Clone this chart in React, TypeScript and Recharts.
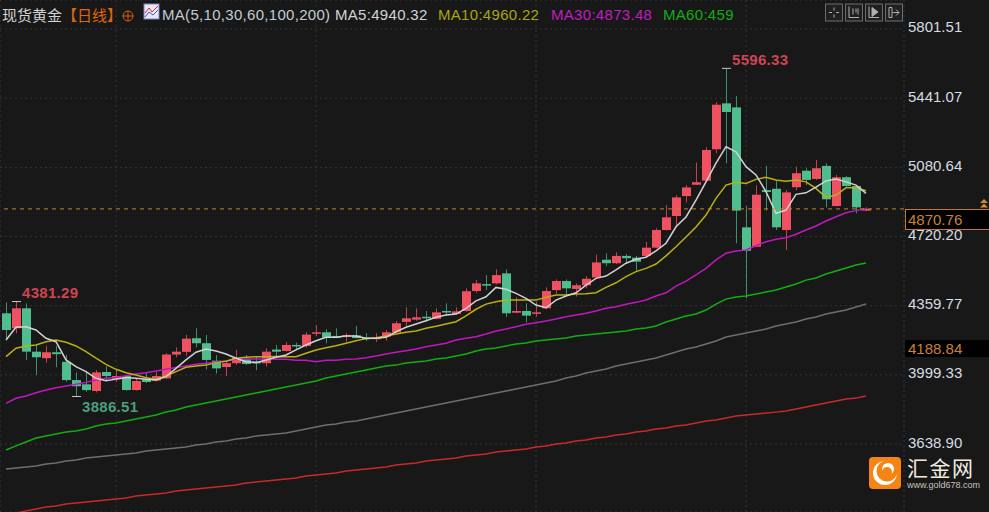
import React from 'react'
import { ComposedChart, Bar, Line, XAxis, YAxis, CartesianGrid, ReferenceLine } from 'recharts'

// daily candles
const opens = [
  4320, 4242, 4346, 4120, 4086, 4117, 4067, 3972, 3950, 3915,
  4014, 3976, 3993, 3920, 3976, 3969, 3981, 4105, 4119, 4190,
  4164, 4073, 4040, 4060, 4081, 4069, 4060, 4131, 4124, 4155,
  4150, 4216, 4221, 4202, 4200, 4205, 4193, 4186, 4198, 4221,
  4275, 4287, 4302, 4291, 4332, 4316, 4332, 4436, 4472, 4476,
  4528, 4323, 4332, 4318, 4346, 4441, 4488, 4447, 4466, 4507,
  4599, 4581, 4619, 4610, 4619, 4662, 4754, 4827, 4931, 4990,
  5011, 5175, 5414, 5393, 4768, 4667, 4962, 4969, 4754, 4977,
  5063, 5020, 5088, 4879, 5029, 4983, 4855,
]
const closes = [
  4233, 4346, 4120, 4091, 4117, 4107, 3972, 3940, 3920, 4012,
  3993, 3993, 3920, 3967, 3962, 3993, 4105, 4120, 4188, 4164,
  4077, 4033, 4060, 4087, 4056, 4059, 4120, 4120, 4155, 4148,
  4209, 4221, 4193, 4193, 4207, 4191, 4186, 4193, 4221, 4268,
  4294, 4299, 4294, 4325, 4325, 4330, 4435, 4476, 4467, 4519,
  4320, 4332, 4308, 4325, 4436, 4488, 4450, 4466, 4500, 4585,
  4581, 4619, 4607, 4589, 4662, 4754, 4820, 4924, 4976, 5003,
  5171, 5407, 5369, 4855, 4646, 4938, 4952, 4768, 4950, 5050,
  5015, 5076, 4914, 5029, 4983, 4872, 4864,
]
const highs = [
  4377, 4381.29, 4372, 4155, 4150, 4150, 4103, 4012, 4016, 4024,
  4045, 4028, 3998, 3981, 4010, 4016, 4112, 4143, 4207, 4242,
  4207, 4103, 4073, 4129, 4103, 4094, 4138, 4155, 4169, 4167,
  4221, 4259, 4237, 4242, 4216, 4254, 4216, 4216, 4233, 4280,
  4351, 4346, 4332, 4346, 4372, 4351, 4450, 4493, 4519, 4549,
  4549, 4403, 4372, 4380, 4455, 4497, 4497, 4476, 4514, 4625,
  4633, 4638, 4629, 4619, 4692, 4763, 4884, 4936, 4988, 5105,
  5185, 5420, 5596.33, 5452, 4879, 4988, 5088, 5011, 4962, 5084,
  5076, 5119, 5102, 5041, 5035, 4988, 4872,
]
const lows = [
  4185, 4216, 4077, 3998, 4063, 4039, 3964, 3886.51, 3911, 3908,
  3967, 3962, 3917, 3917, 3957, 3964, 3976, 4091, 4098, 4143,
  4028, 4007, 3993, 4051, 4051, 4024, 4042, 4094, 4121, 4133,
  4141, 4202, 4164, 4190, 4172, 4188, 4176, 4171, 4177, 4216,
  4254, 4281, 4276, 4288, 4308, 4311, 4328, 4427, 4441, 4471,
  4300, 4320, 4273, 4302, 4343, 4424, 4421, 4407, 4450, 4502,
  4566, 4577, 4581, 4537, 4612, 4659, 4751, 4768, 4898, 4988,
  5008, 5154, 5102, 4685, 4398, 4664, 4855, 4754, 4650, 4962,
  4988, 5015, 4872, 4876, 4980, 4841, 4852,
]

const ma5 = [
  4181, 4247, 4250, 4233, 4190, 4172, 4077, 4042, 4016, 3981,
  3969, 3977, 3986, 3981, 3976, 3972, 3990, 4033, 4077, 4117,
  4134, 4124, 4108, 4086, 4068, 4063, 4077, 4091, 4103, 4129,
  4155, 4177, 4195, 4195, 4202, 4202, 4190, 4190, 4195, 4224,
  4247, 4264, 4281, 4299, 4311, 4316, 4346, 4385, 4406, 4455,
  4445, 4424, 4398, 4363, 4349, 4389, 4410, 4427, 4467, 4502,
  4514, 4546, 4581, 4602, 4612, 4645, 4685, 4771, 4822, 4910,
  5005, 5102, 5188, 5162, 5084, 5041, 4954, 4841, 4858, 4940,
  4948, 4977, 5010, 5020, 5005, 4988, 4945,
]
const ma10 = [
  4094, 4138, 4150, 4155, 4172, 4181, 4169, 4150, 4120, 4086,
  4054, 4028, 4010, 3998, 3984, 3976, 3993, 4016, 4039, 4045,
  4050, 4063, 4070, 4086, 4091, 4094, 4094, 4095, 4094, 4094,
  4112, 4129, 4141, 4151, 4164, 4177, 4188, 4193, 4202, 4212,
  4221, 4228, 4242, 4252, 4264, 4276, 4306, 4341, 4368, 4380,
  4389, 4389, 4389, 4389, 4403, 4415, 4415, 4420, 4422, 4427,
  4455, 4479, 4511, 4537, 4554, 4577, 4619, 4667, 4718, 4770,
  4832, 4919, 4988, 5003, 4997, 5018, 5029, 5015, 5008, 5015,
  5005, 4971, 4924, 4936, 4974, 4974, 4959,
]
const ma30 = [
  3851, 3877, 3889, 3906, 3920, 3932, 3941, 3950, 3960, 3972,
  3981, 3986, 3995, 4004, 4010, 4019, 4028, 4037, 4045, 4054,
  4060, 4066, 4071, 4080, 4082, 4082, 4082, 4081, 4080, 4075,
  4075, 4068, 4075, 4075, 4080, 4082, 4088, 4097, 4108, 4117,
  4125, 4134, 4146, 4155, 4164, 4181, 4190, 4198, 4212, 4228,
  4238, 4250, 4263, 4271, 4280, 4290, 4302, 4311, 4320, 4332,
  4346, 4354, 4367, 4377, 4389, 4410, 4427, 4462, 4488, 4520,
  4554, 4598, 4633, 4645, 4650, 4672, 4693, 4706, 4714, 4732,
  4754, 4775, 4801, 4823, 4844, 4855, 4865,
]
const ma60 = [
  3608, 3629, 3649, 3670, 3681, 3691, 3702, 3707, 3717, 3733,
  3743, 3748, 3759, 3769, 3780, 3790, 3806, 3816, 3832, 3842,
  3853, 3863, 3873, 3884, 3894, 3905, 3915, 3925, 3936, 3946,
  3957, 3967, 3983, 3993, 4004, 4014, 4024, 4035, 4045, 4050,
  4061, 4066, 4071, 4082, 4087, 4097, 4108, 4123, 4134, 4139,
  4150, 4160, 4165, 4176, 4181, 4186, 4191, 4202, 4207, 4212,
  4217, 4222, 4228, 4238, 4243, 4254, 4275, 4290, 4306, 4316,
  4337, 4368, 4394, 4405, 4410, 4420, 4431, 4441, 4457, 4473,
  4493, 4504, 4525, 4540, 4556, 4572, 4582,
]
const ma100 = [
  3508, 3514, 3519, 3524, 3535, 3540, 3550, 3555, 3566, 3571,
  3576, 3582, 3587, 3592, 3602, 3608, 3613, 3618, 3623, 3634,
  3639, 3649, 3654, 3665, 3670, 3681, 3686, 3691, 3696, 3707,
  3717, 3727, 3738, 3743, 3753, 3759, 3769, 3780, 3790, 3800,
  3811, 3821, 3832, 3842, 3853, 3863, 3873, 3884, 3894, 3905,
  3915, 3925, 3936, 3946, 3957, 3967, 3983, 3993, 4009, 4019,
  4030, 4045, 4056, 4066, 4077, 4087, 4103, 4118, 4134, 4144,
  4160, 4176, 4196, 4207, 4217, 4228, 4238, 4254, 4264, 4275,
  4290, 4301, 4316, 4327, 4337, 4353, 4368,
]
const ma200 = [
  3269, 3279, 3290, 3300, 3311, 3316, 3326, 3331, 3337, 3342,
  3347, 3352, 3357, 3368, 3373, 3378, 3383, 3394, 3399, 3404,
  3409, 3415, 3420, 3425, 3436, 3441, 3446, 3451, 3456, 3462,
  3472, 3477, 3483, 3488, 3498, 3503, 3508, 3514, 3519, 3529,
  3535, 3540, 3550, 3555, 3561, 3566, 3576, 3582, 3587, 3597,
  3602, 3608, 3613, 3623, 3629, 3639, 3644, 3655, 3660, 3670,
  3675, 3686, 3691, 3701, 3707, 3717, 3722, 3733, 3738, 3748,
  3759, 3764, 3774, 3785, 3790, 3795, 3800, 3805, 3811, 3821,
  3832, 3842, 3852, 3863, 3873, 3878, 3889,
]

const priceTicks = [5801.51, 5441.07, 5080.64, 4720.2, 4359.77, 3999.33, 3638.9]
const monthStarts = [11, 31, 53, 74]
const extremeBars = [1, 7, 72] // bars that carry the little white high/low marker
const lastLine = 4864

const data = opens.map((open, i) => ({
  i,
  open,
  close: closes[i],
  high: highs[i],
  low: lows[i],
  ma5: ma5[i],
  ma10: ma10[i],
  ma30: ma30[i],
  ma60: ma60[i],
  ma100: ma100[i],
  ma200: ma200[i],
}))

const UP = '#ef5161'
const UP_WICK = '#c8404e'
const DOWN = '#50bd8e'
const DOWN_WICK = '#3f8f6d'

function Candle(props: any) {
  const { x, y, width, height, payload } = props
  const cx = Math.round(x + width / 2) + 0.5
  const perUnit = height / (payload.high - payload.low)
  const toY = (v: number) => y + (payload.high - v) * perUnit
  const up = payload.close >= payload.open
  const top = toY(Math.max(payload.open, payload.close))
  const bot = toY(Math.min(payload.open, payload.close))
  const markY = payload.i === 7 ? y + height : y
  return (
    <g>
      <line x1={cx} x2={cx} y1={y} y2={y + height} stroke={up ? UP_WICK : DOWN_WICK} />
      <rect x={cx - 4.5} y={top} width={9} height={Math.max(bot - top, 1.5)} fill={up ? UP : DOWN} />
      {extremeBars.includes(payload.i) && (
        <line x1={cx - 4.5} x2={cx + 4.5} y1={markY} y2={markY} stroke="#c8c8c8" />
      )}
    </g>
  )
}

function PriceTick(props: any) {
  const { y, payload } = props
  return (
    <text x={908} y={y + 3.5} fill="#d6dce2" fontSize={15} fontFamily="'Liberation Sans', Arial">
      {payload.value.toFixed(2)}
    </text>
  )
}

function Txt({ x, y, color, size = 15, bold, family, spacing, children }: any) {
  return (
    <div
      style={{
        position: 'absolute',
        left: x,
        top: y,
        color,
        fontSize: size,
        lineHeight: `${size + 2}px`,
        fontWeight: bold ? 700 : 400,
        fontFamily: family || "'Liberation Sans', Arial",
        letterSpacing: spacing,
        whiteSpace: 'nowrap',
      }}
    >
      {children}
    </div>
  )
}

function ToolButton({ x, children }: any) {
  return (
    <g transform={`translate(${x},3.5)`}>
      <rect x={0.5} y={0.5} width={17} height={17} fill="#202020" stroke="#6e6e6e" />
      <g stroke="#b0b0b0" fill="none">
        {children}
      </g>
    </g>
  )
}

export default function App() {
  return (
    <div
      style={{
        position: 'absolute',
        left: 0,
        top: 0,
        width: 989,
        height: 512,
        background: '#181818',
        overflow: 'hidden',
      }}
    >
      <ComposedChart width={989} height={512} data={data} margin={{ top: 0, right: 0, bottom: 0, left: 0 }}>
        <CartesianGrid stroke="#343434" strokeDasharray="2 3" />
        <XAxis dataKey="i" type="number" domain={[-0.6, 89.8]} ticks={monthStarts} hide />
        <YAxis
          orientation="right"
          width={85}
          domain={[3284.55, 5952.63]}
          allowDataOverflow
          ticks={priceTicks}
          interval={0}
          axisLine={false}
          tickLine={false}
          tick={<PriceTick />}
        />
        <Bar dataKey={(d: any) => [d.low, d.high]} barSize={9} shape={<Candle />} isAnimationActive={false} />
        <Line dataKey="ma200" stroke="#c82a2a" strokeWidth={1.5} dot={false} isAnimationActive={false} />
        <Line dataKey="ma100" stroke="#6e6e6e" strokeWidth={1.5} dot={false} isAnimationActive={false} />
        <Line dataKey="ma60" stroke="#12ad12" strokeWidth={1.5} dot={false} isAnimationActive={false} />
        <Line dataKey="ma30" stroke="#c017c0" strokeWidth={1.5} dot={false} isAnimationActive={false} />
        <Line dataKey="ma10" stroke="#b9b012" strokeWidth={1.5} dot={false} isAnimationActive={false} />
        <Line dataKey="ma5" stroke="#d2d2d2" strokeWidth={1.5} dot={false} isAnimationActive={false} />
        <ReferenceLine y={lastLine} stroke="#c98434" strokeDasharray="4 4" />
      </ComposedChart>

      <Txt x={2} y={6} color="#d4d4d4" family="'Noto Sans CJK SC'">现货黄金</Txt>
      <Txt x={62} y={6} color="#e0660a" family="'Noto Sans CJK SC'">【日线】</Txt>
      <Txt x={162} y={6} color="#c2ccd6" spacing={0.3}>MA(5,10,30,60,100,200)</Txt>
      <Txt x={335} y={6} color="#d0d4d8" spacing={0.3}>MA5:4940.32</Txt>
      <Txt x={438} y={6} color="#aaa60c" spacing={0.3}>MA10:4960.22</Txt>
      <Txt x={551} y={6} color="#c01cc0" spacing={0.3}>MA30:4873.48</Txt>
      <Txt x={663} y={6} color="#12ad12" spacing={0.3}>MA60:459</Txt>

      <Txt x={732} y={51} color="#cf4452" bold spacing={0.3}>5596.33</Txt>
      <Txt x={22} y={284} color="#cf4452" bold spacing={0.3}>4381.29</Txt>
      <Txt x={82} y={398} color="#4c9d7c" bold spacing={0.3}>3886.51</Txt>

      {/* price tags on the axis */}
      <div
        style={{
          position: 'absolute',
          left: 905,
          top: 209,
          width: 84,
          height: 21,
          boxSizing: 'border-box',
          background: '#000',
          border: '1px solid #c07a2c',
          borderRight: 'none',
        }}
      />
      <Txt x={908} y={211} color="#c8822e">4870.76</Txt>
      <div style={{ position: 'absolute', left: 905, top: 340, width: 84, height: 17, background: '#000' }} />
      <Txt x={908} y={340} color="#c8822e">4188.84</Txt>

      <svg width={989} height={512} style={{ position: 'absolute', left: 0, top: 0 }}>
        {/* crosshair symbol after the title */}
        <circle cx={128} cy={16} r={5} fill="none" stroke="#d8620c" />
        <path d="M123 16H133M128 11V21" stroke="#d8620c" />

        {/* indicator icon */}
        <rect x={144} y={4} width={15} height={15} fill="#e8e8f4" stroke="#7a86b8" />
        <path d="M145 13L149 8L152 12L158 6" stroke="#e02a2a" fill="none" />
        <path d="M145 17L149 12L153 15L158 10" stroke="#3a5ad0" fill="none" />

        <ToolButton x={825}>
          <path d="M9 4V7M9 11V14M4 9H7M11 9H14" />
        </ToolButton>
        <ToolButton x={845}>
          <path d="M4 3V14H14M8 5V11M11 5V9M13 5V11" />
        </ToolButton>
        <ToolButton x={865}>
          <path d="M4 3V14H14" />
          <path d="M7 4L13 8.5L7 13Z" fill="#b0b0b0" />
        </ToolButton>
        <ToolButton x={885}>
          <path d="M4 4H7V14H4ZM8 9H14M11 6L14 9L11 12" />
        </ToolButton>

        {/* double arrow above the last price tag */}
        <path d="M984 199L988 203H980ZM984 203.5L988 207.5H980Z" fill="#d08a34" />

        {/* logo */}
        <rect x={869} y={457} width={32} height={32} rx={4} fill="#f58412" />
        <circle cx={885} cy={473} r={12} fill="#fff" />
        <circle cx={887} cy={471} r={10.5} fill="#f58412" />
        <circle cx={888} cy={469} r={6} fill="#fff" />
        <circle cx={887} cy={472} r={5} fill="#f58412" />
      </svg>
      <Txt x={907} y={456} color="#f2ebe2" size={21} family="'Noto Sans CJK SC'" spacing={1.5}>汇金网</Txt>
      <Txt x={907} y={480} color="#c9c2b8" size={9} spacing={0}>www.gold678.com</Txt>
    </div>
  )
}
